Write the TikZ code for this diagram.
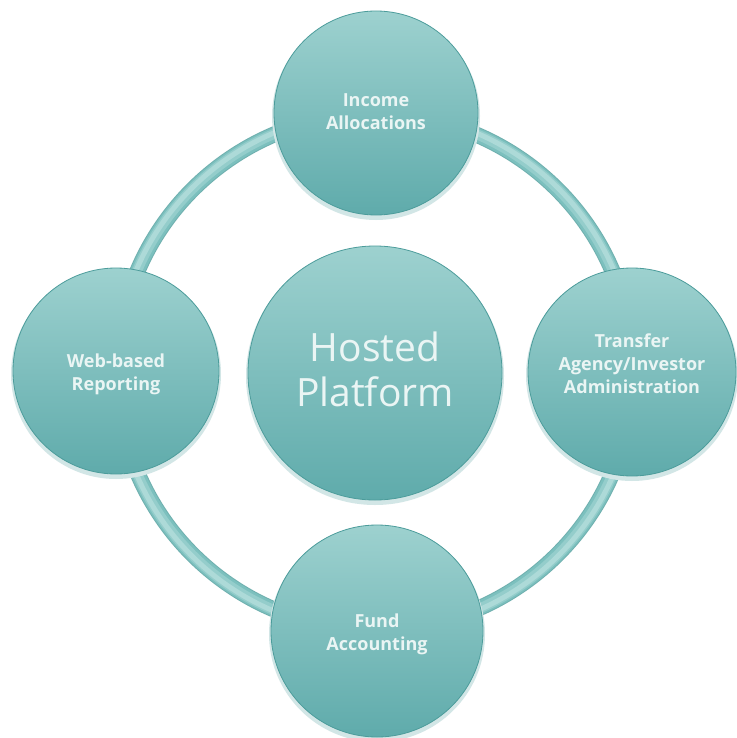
\documentclass[tikz,border=0pt]{standalone}
\usepackage{fontspec}
\setmainfont{Open Sans}
\usetikzlibrary{shadings}
\definecolor{ctop}{HTML}{9DD1CF}
\definecolor{cbot}{HTML}{5FABAB}
\definecolor{cedge}{HTML}{4C9C9B}
\definecolor{ringdark}{HTML}{7CC0BE}
\definecolor{ringmid}{HTML}{94CDCB}
\definecolor{ringlight}{HTML}{ADDAD8}
\definecolor{txt}{HTML}{EAF5F4}
\tikzset{
  ball/.style={circle, minimum size=#1, inner sep=0pt, top color=ctop, bottom color=cbot,
    draw=cedge, line width=0.8pt, text=txt, align=center},
  small/.style={font=\bfseries\fontsize{18}{23}\selectfont},
}
\begin{document}
\begin{tikzpicture}[x=1pt,y=-1pt]
\useasboundingbox (0,0) rectangle (736,738);
\fill[white] (0,0) rectangle (736,738);
% ring
\coordinate (ringc) at (375,372);
\draw[line width=16pt, cedge!80] (ringc) circle[radius=258];
\draw[line width=14pt, ringdark] (ringc) circle[radius=258];
\draw[line width=10pt, ringmid] (ringc) circle[radius=258.5];
\draw[line width=5pt, ringlight] (ringc) circle[radius=259.5];
% soft shadows
\foreach \x/\y/\r in {376/113/102, 116/371/103, 632/372/104, 377/631/106, 375/373/127}{
  \fill[cedge!25] (\x,\y+3) circle[radius=\r+2];
}
\node[ball=204pt] (top) at (376,113) {};
\node[ball=206pt] (left) at (116,371) {};
\node[ball=208pt] (right) at (632,372) {};
\node[ball=212pt] (bottom) at (377,631) {};
\node[ball=254pt] (center) at (375,373) {};
\node[small, text=txt, align=center] at ([yshift=1pt]top.center) {Income\\Allocations};
\node[small, text=txt, align=center] at ([yshift=-3pt]left.center) {Web-based\\Reporting};
\node[small, text=txt, align=center] at ([yshift=8pt]right.center) {Transfer\\Agency/Investor\\Administration};
\node[small, text=txt, align=center] at ([yshift=-3pt]bottom.center) {Fund\\Accounting};
\node[font=\fontsize{39}{45}\selectfont, text=txt, align=center] at ([yshift=4pt]center.center) {Hosted\\Platform};
\end{tikzpicture}
\end{document}
